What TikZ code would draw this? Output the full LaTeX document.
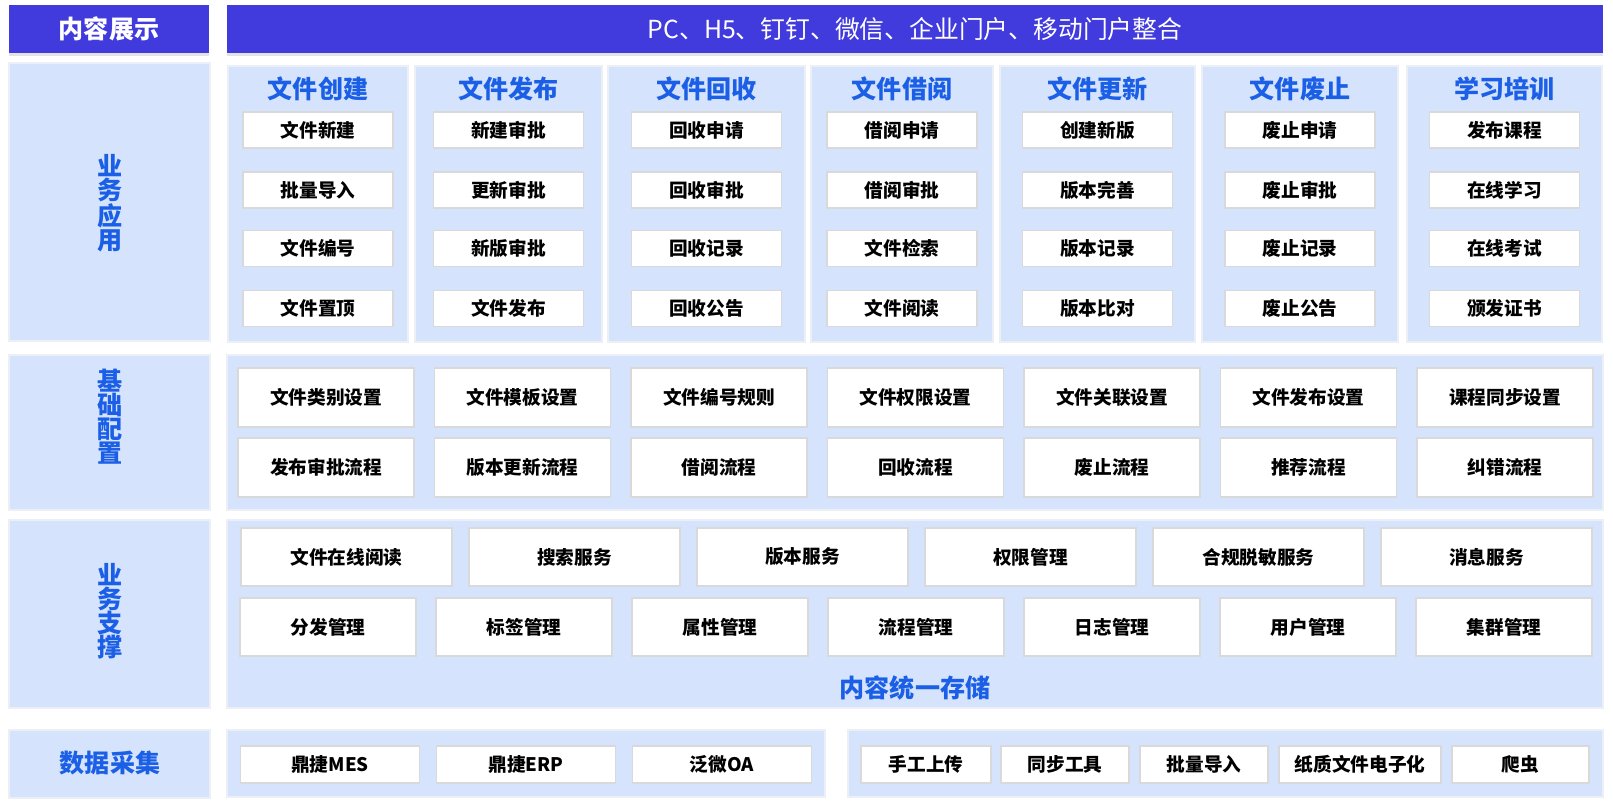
\documentclass[tikz,border=0pt]{standalone}
\usepackage{fontspec}
\setmainfont{Noto Sans CJK SC}
\usetikzlibrary{shadows}
\newdimen\pu \pu=0.75pt
\definecolor{dkblue}{HTML}{413BDD}
\definecolor{ltblue}{HTML}{D6E3FC}
\definecolor{pnlborder}{HTML}{ECEFF5}
\definecolor{hdrblue}{HTML}{1A5FE6}
\definecolor{itmborder}{HTML}{D9D9D9}
\newcommand{\hdrfont}{\fontsize{18.8pt}{18pt}\selectfont\bfseries}
\newcommand{\itmfont}{\fontsize{14pt}{16pt}\selectfont\bfseries}
\tikzset{
  darkbar/.style={fill=dkblue, draw=none, inner sep=0pt, text=white,
    drop shadow={shadow xshift=0pt, shadow yshift=-2.5pt, opacity=0.22}},
  panel/.style={fill=ltblue, draw=pnlborder, line width=2\pu, inner sep=0pt},
  itembox/.style={fill=white, draw=itmborder, line width=1.6\pu, inner sep=0pt, font=\itmfont, text=black},
  hdr/.style={text=hdrblue, font=\hdrfont, inner sep=0pt, align=center},
}
\begin{document}
\begin{tikzpicture}[x=0.75pt,y=-0.75pt]
\useasboundingbox (0,0) rectangle (1613,800);
% top row
\node[darkbar, minimum width=200\pu, minimum height=48\pu, font=\hdrfont] (show) at (109,29) {内容展示};
\node[darkbar, minimum width=1376\pu, minimum height=48\pu, font=\fontsize{18.6pt}{20pt}\selectfont] (chan) at (915,29) {PC、H5、钉钉、微信、企业门户、移动门户整合};
% left label panels
\node[panel, minimum width=201\pu, minimum height=278\pu] (L2) at (109.5,201.5) {};
\node[panel, minimum width=201\pu, minimum height=155\pu] (L3) at (109.5,432.5) {};
\node[panel, minimum width=201\pu, minimum height=188\pu] (L4) at (109.5,614) {};
\node[panel, minimum width=201\pu, minimum height=68\pu] (L5) at (109.5,764) {};
\node[hdr] (t2) at (110,203) {业\\务\\应\\用};
\node[hdr] (t3) at (110,417) {基\\础\\配\\置};
\node[hdr] (t4) at (110,611) {业\\务\\支\\撑};
\node[hdr] (t5) at (110,763) {数据采集};
% row 2 columns
\foreach \n/\cx/\w/\t/\a/\b/\c/\d in {
  1/318/180/文件创建/文件新建/批量导入/文件编号/文件置顶,
  2/508.5/187/文件发布/新建审批/更新审批/新版审批/文件发布,
  3/706.5/197/文件回收/回收申请/回收审批/回收记录/回收公告,
  4/902/182/文件借阅/借阅申请/借阅审批/文件检索/文件阅读,
  5/1097.5/195/文件更新/创建新版/版本完善/版本记录/版本比对,
  6/1300/196/文件废止/废止申请/废止审批/废止记录/废止公告,
  7/1504.5/195/学习培训/发布课程/在线学习/在线考试/颁发证书}{
  \node[panel, minimum width=\w\pu, minimum height=276\pu] (c\n) at (\cx,204) {};
  \node[hdr] (c\n h) at (\cx,89) {\t};
  \node[itembox, minimum width=150\pu, minimum height=36\pu] (c\n a) at (\cx,130) {\a};
  \node[itembox, minimum width=150\pu, minimum height=36\pu] (c\n b) at (\cx,190) {\b};
  \node[itembox, minimum width=150\pu, minimum height=36\pu] (c\n c) at (\cx,248.5) {\c};
  \node[itembox, minimum width=150\pu, minimum height=36\pu] (c\n d) at (\cx,308.5) {\d};
}
% row 3
\node[panel, minimum width=1376\pu, minimum height=155\pu] (P3) at (915,432.5) {};
\foreach \k/\a/\b in {0/文件类别设置/发布审批流程, 1/文件模板设置/版本更新流程,
  2/文件编号规则/借阅流程, 3/文件权限设置/回收流程, 4/文件关联设置/废止流程,
  5/文件发布设置/推荐流程, 6/课程同步设置/纠错流程}{
  \pgfmathsetmacro{\cx}{326+196.5*\k}
  \node[itembox, minimum width=176\pu, minimum height=59\pu] (r3a\k) at (\cx,397.5) {\a};
  \node[itembox, minimum width=176\pu, minimum height=59\pu] (r3b\k) at (\cx,467.5) {\b};
}
% row 4
\node[panel, minimum width=1376\pu, minimum height=188\pu] (P4) at (915,614) {};
\foreach \k/\a in {0/文件在线阅读, 1/搜索服务, 2/版本服务, 3/权限管理, 4/合规脱敏服务, 5/消息服务}{
  \pgfmathsetmacro{\cx}{346.5+228*\k}
  \node[itembox, minimum width=211\pu, minimum height=58\pu] (r4a\k) at (\cx,557) {\a};
}
\foreach \k/\a in {0/分发管理, 1/标签管理, 2/属性管理, 3/流程管理, 4/日志管理, 5/用户管理, 6/集群管理}{
  \pgfmathsetmacro{\cx}{328+196*\k}
  \node[itembox, minimum width=176\pu, minimum height=58\pu] (r4b\k) at (\cx,627) {\a};
}
\node[hdr] (store) at (915,688) {内容统一存储};
% row 5
\node[panel, minimum width=598\pu, minimum height=67\pu] (P5a) at (526,763.5) {};
\node[panel, minimum width=755\pu, minimum height=67\pu] (P5b) at (1225.5,763.5) {};
\foreach \k/\cx/\a in {0/330/鼎捷MES, 1/526/鼎捷ERP, 2/722/泛微OA}{
  \node[itembox, minimum width=179\pu, minimum height=37\pu] (r5a\k) at (\cx,764.5) {\a};
}
\foreach \k/\cx/\w/\a in {0/926/130/手工上传, 1/1065/128/同步工具, 2/1204/128/批量导入,
  3/1360/162/纸质文件电子化, 4/1520.5/137/爬虫}{
  \node[itembox, minimum width=\w\pu, minimum height=37\pu] (r5b\k) at (\cx,764.5) {\a};
}
\end{tikzpicture}
\end{document}
